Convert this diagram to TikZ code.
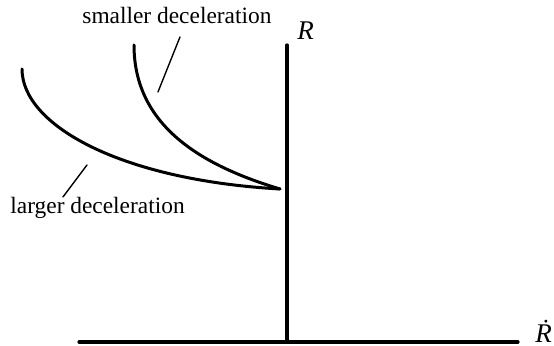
\documentclass[tikz,border=0pt]{standalone}
\usepackage{fontspec}
\setmainfont{Liberation Serif}
\usetikzlibrary{positioning, calc}

\tikzset{
    axisline/.style={line width=1.6pt},
    decelcurve/.style={line width=1.5pt},
    leaderline/.style={line width=0.7pt},
    decellabel/.style={inner sep=0pt, font=\fontsize{11.7}{14}\selectfont},
    axislabel/.style={inner sep=0pt, font=\fontsize{13.5}{16}\selectfont\itshape}
}

\begin{document}
\begin{tikzpicture}[x=0.5pt, y=-0.5pt, line cap=round]
        \useasboundingbox (0,0) rectangle (554,346);

        % Axes
        \coordinate (O) at (287,342);
        \coordinate (Rtop) at (287,45);
        \coordinate (Rleft) at (79,342);
        \coordinate (Rright) at (518,342);
        \draw[axisline] (O) -- (Rtop);
        \draw[axisline] (Rleft) -- (Rright);
        \node[axislabel, anchor=base west] (Rlbl) at (297,40) {R};
        \node[axislabel, anchor=base west] (Rdotlbl) at (535,343) {Ṙ};

        % Deceleration curves meeting on the R axis
        \coordinate (meet) at (280,189);
        \coordinate (smalltop) at (134,45);
        \coordinate (largetop) at (22,69);
        \draw[decelcurve] (smalltop) .. controls (134,125) and (200,165) .. (meet);
        \draw[decelcurve] (largetop) .. controls (22,125) and (120,180) .. (meet);

        % Labels with leader lines
        \node[decellabel, anchor=base west] (smalllbl) at (82,24) {smaller deceleration};
        \node[decellabel, anchor=base west] (largelbl) at (10,214) {larger deceleration};
        \coordinate (smallA) at (180,37);
        \coordinate (smallB) at (158,92);
        \coordinate (largeA) at (87,165);
        \coordinate (largeB) at (63,197);
        \draw[leaderline] (smallA) -- (smallB);
        \draw[leaderline] (largeA) -- (largeB);
    \end{tikzpicture}
\end{document}
